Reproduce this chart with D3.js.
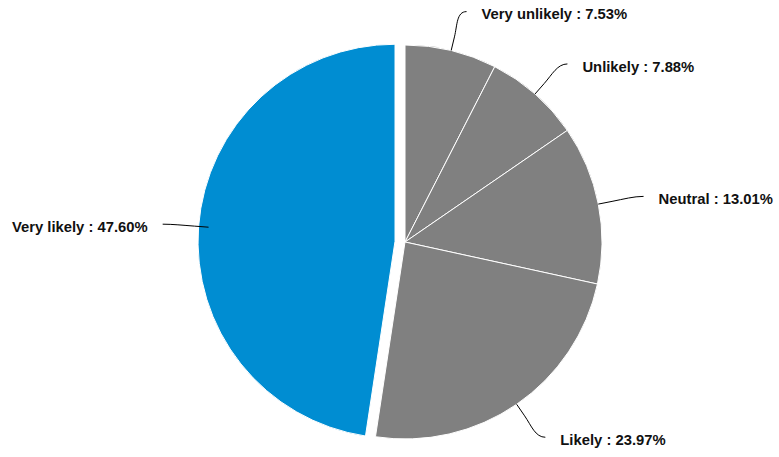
<!DOCTYPE html>
<html><head><meta charset="utf-8">
<script src="https://cdn.jsdelivr.net/npm/d3@7"></script>
<style>body{margin:0;background:#fff}svg{display:block}</style>
</head><body>
<script>
const categories = ["Very unlikely", "Unlikely", "Neutral", "Likely", "Very likely"];
const values = [7.53, 7.88, 13.01, 23.97, 47.60];
const colors = ["#808080", "#808080", "#808080", "#808080", "#008dd2"];
const sliced = [false, false, false, false, true];

const W = 779, H = 457;
const cx = 405, cy = 242, r = 197, slicedOffset = 10, labelDist = 40;
const svg = d3.select("body").append("svg").attr("width", W).attr("height", H);

const data = categories.map((c, i) => ({name: c, value: values[i], color: colors[i], sliced: sliced[i]}));
const pie = d3.pie().sort(null).value(d => d.value);
const arcs = pie(data);
const arc = d3.arc().innerRadius(0).outerRadius(r);

const g = svg.append("g").attr("transform", `translate(${cx},${cy})`);
g.selectAll("path.slice").data(arcs).enter().append("path")
  .attr("class", "slice")
  .attr("d", arc)
  .attr("fill", d => d.data.color)
  .attr("stroke", "#fff").attr("stroke-width", 1).attr("stroke-linejoin", "round")
  .attr("transform", d => {
    if (!d.data.sliced) return null;
    const a = (d.startAngle + d.endAngle) / 2;
    return `translate(${slicedOffset * Math.sin(a)},${-slicedOffset * Math.cos(a)})`;
  });

arcs.forEach(d => {
  const a = (d.startAngle + d.endAngle) / 2;
  const sx = Math.sin(a), sy = -Math.cos(a);
  const side = sx >= 0 ? 1 : -1;
  const P = [sx * (r + labelDist) + side * 6, sy * (r + labelDist)];
  const Q = [sx * (r + 14), sy * (r + 14)];
  const E = [sx * r, sy * r];
  const c1 = [P[0] - side * 10, P[1]];
  const c2 = [Q[0] + sx * 12, Q[1] + sy * 12];
  g.append("path")
    .attr("d", `M${P[0]},${P[1]} C${c1[0]},${c1[1]} ${c2[0]},${c2[1]} ${Q[0]},${Q[1]} L${E[0]},${E[1]}`)
    .attr("fill", "none").attr("stroke", "#000").attr("stroke-width", 1);
  g.append("text")
    .attr("x", P[0] + side * 15)
    .attr("y", P[1] + 2.5)
    .attr("dy", "0.35em")
    .attr("text-anchor", side > 0 ? "start" : "end")
    .attr("font-family", "'Liberation Sans', Arial, sans-serif")
    .attr("font-size", 14.8).attr("font-weight", "bold").attr("fill", "#111")
    .text(`${d.data.name} : ${d.data.value.toFixed(2)}%`);
});
</script>
</body></html>
